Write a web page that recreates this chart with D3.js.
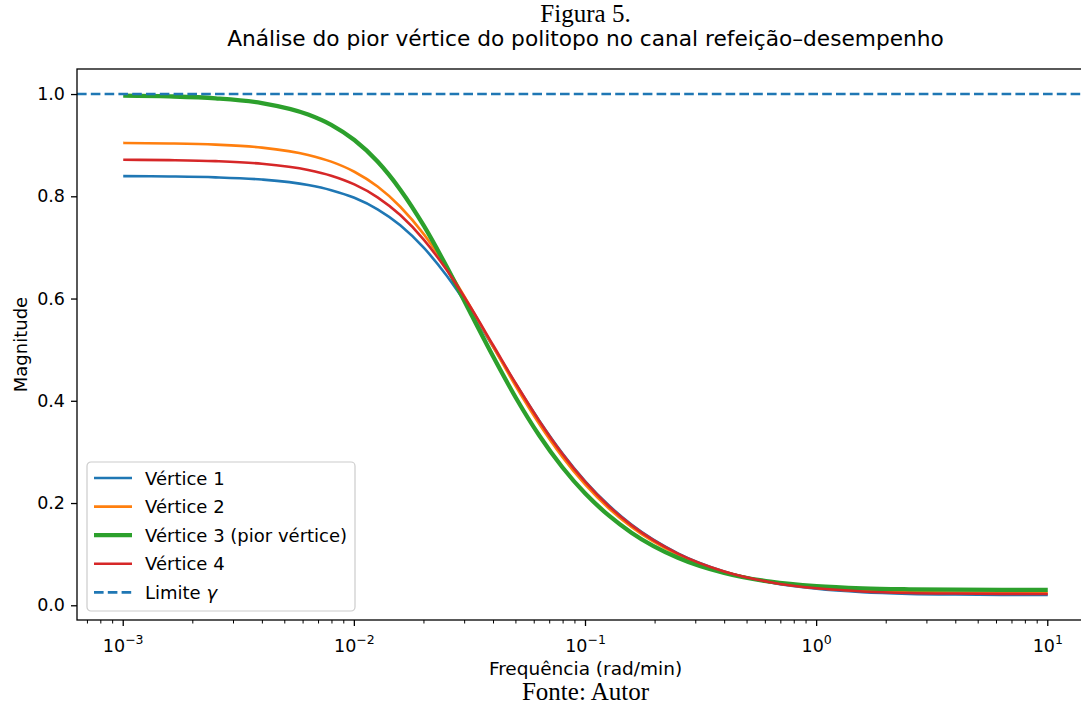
<!DOCTYPE html>
<html>
<head>
<meta charset="utf-8">
<script src="https://cdn.jsdelivr.net/npm/d3@7"></script>
<style>
  body { margin: 0; background: #fff; }
  svg { display: block; }
</style>
</head>
<body>
<div id="container"></div>
<script>
// frequencies (rad/min) where the curves were read
const freqs = [0.001, 0.00158, 0.00251, 0.00398, 0.00631, 0.00794, 0.01, 0.0126, 0.0158, 0.02,
  0.0251, 0.0316, 0.0398, 0.0501, 0.0631, 0.0794, 0.1, 0.126, 0.158, 0.251,
  0.398, 0.631, 1, 1.58, 2.51, 3.98, 6.31, 10];

const vertice1 = [0.8395, 0.8388, 0.8371, 0.8327, 0.8221, 0.812, 0.797, 0.7745, 0.7433, 0.699,
  0.6444, 0.5786, 0.506, 0.4319, 0.3612, 0.2975, 0.2421, 0.1956, 0.158, 0.1017,
  0.0662, 0.0446, 0.0322, 0.0256, 0.0224, 0.021, 0.0204, 0.0202];
const vertice2 = [0.9044, 0.9034, 0.901, 0.8952, 0.8809, 0.8678, 0.848, 0.819, 0.7796, 0.7255,
  0.6607, 0.5857, 0.506, 0.4274, 0.3546, 0.2903, 0.2354, 0.1898, 0.1532, 0.099,
  0.0654, 0.0453, 0.0341, 0.0285, 0.0259, 0.0248, 0.0243, 0.0241];
const vertice3 = [0.997, 0.9955, 0.9917, 0.9824, 0.960, 0.9398, 0.910, 0.868, 0.813, 0.742,
  0.662, 0.574, 0.487, 0.405, 0.332, 0.270, 0.218, 0.1757, 0.142, 0.0929,
  0.0632, 0.0461, 0.0373, 0.0331, 0.0313, 0.0305, 0.0302, 0.0301];
const vertice4 = [0.8715, 0.8707, 0.8687, 0.8636, 0.8515, 0.8403, 0.8232, 0.798, 0.7633, 0.7148,
  0.6556, 0.5853, 0.5091, 0.4328, 0.3606, 0.2962, 0.2407, 0.1942, 0.1568, 0.1011,
  0.0662, 0.0452, 0.0332, 0.0271, 0.0241, 0.0229, 0.0223, 0.0221];
const gamma = 1.0;

const seriesNames = ["Vértice 1", "Vértice 2", "Vértice 3 (pior vértice)", "Vértice 4"];
const seriesColors = ["#1f77b4", "#ff7f0e", "#2ca02c", "#d62728"];
const seriesWidths = [2.6, 2.6, 4.3, 2.6];
const yTicks = [0.0, 0.2, 0.4, 0.6, 0.8, 1.0];
const xTicks = [-3, -2, -1, 0, 1];

const width = 1081;
const height = 707;
const plotLeft = 77, plotRight = 1094, plotTop = 69, plotBottom = 620;
const sans = "DejaVu Sans";
const serif = "Liberation Serif";

const svg = d3.select("#container").append("svg")
  .attr("width", width)
  .attr("height", height);

const allSeries = [vertice1, vertice2, vertice3, vertice4];
const yMin = d3.min(allSeries, s => d3.min(s));
const yMax = Math.max(gamma, d3.max(allSeries, s => d3.max(s)));
const pad = 0.05 * (yMax - yMin);

const x = d3.scaleLog()
  .domain([Math.pow(10, -3.2), Math.pow(10, 1.2)])
  .range([plotLeft, plotRight]);
const y = d3.scaleLinear()
  .domain([yMin - pad, yMax + pad])
  .range([plotBottom, plotTop]);

// clip for the plot area
svg.append("clipPath").attr("id", "plotclip")
  .append("rect")
  .attr("x", plotLeft).attr("y", plotTop)
  .attr("width", plotRight - plotLeft).attr("height", plotBottom - plotTop);

const plot = svg.append("g").attr("clip-path", "url(#plotclip)");

const line = d3.line()
  .x(d => x(d[0]))
  .y(d => y(d[1]))
  .curve(d3.curveMonotoneX);

allSeries.forEach((s, i) => {
  plot.append("path")
    .datum(freqs.map((f, j) => [f, s[j]]))
    .attr("fill", "none")
    .attr("stroke", seriesColors[i])
    .attr("stroke-width", seriesWidths[i])
    .attr("stroke-linejoin", "round")
    .attr("d", line);
});

// limite gamma
plot.append("line")
  .attr("x1", plotLeft).attr("x2", plotRight)
  .attr("y1", y(gamma)).attr("y2", y(gamma))
  .attr("stroke", "#1f77b4")
  .attr("stroke-width", 2.6)
  .attr("stroke-dasharray", "9.6,4.2");

// spines
svg.append("rect")
  .attr("x", plotLeft).attr("y", plotTop)
  .attr("width", plotRight - plotLeft).attr("height", plotBottom - plotTop)
  .attr("fill", "none")
  .attr("stroke", "#000")
  .attr("stroke-width", 1.3);

// y axis
const yAxis = d3.axisLeft(y)
  .tickValues(yTicks)
  .tickFormat(d3.format(".1f"))
  .tickSize(6)
  .tickPadding(6);
const yG = svg.append("g")
  .attr("transform", `translate(${plotLeft},0)`)
  .call(yAxis);
yG.select(".domain").remove();
yG.selectAll(".tick line").attr("stroke-width", 1.3);
yG.selectAll(".tick text")
  .attr("font-family", sans)
  .attr("font-size", 17.5)
  .attr("fill", "#000");

// x axis: major ticks
const xG = svg.append("g").attr("transform", `translate(0,${plotBottom})`);
xG.selectAll(".major").data(xTicks).enter()
  .append("line")
  .attr("class", "major")
  .attr("x1", d => x(Math.pow(10, d))).attr("x2", d => x(Math.pow(10, d)))
  .attr("y1", 0).attr("y2", 6)
  .attr("stroke", "#000").attr("stroke-width", 1.3);

// minor ticks
const minor = [];
for (let e = -4; e <= 1; e++) {
  for (let m = 2; m <= 9; m++) {
    const v = m * Math.pow(10, e);
    if (v >= x.domain()[0] && v <= x.domain()[1]) minor.push(v);
  }
}
xG.selectAll(".minor").data(minor).enter()
  .append("line")
  .attr("class", "minor")
  .attr("x1", d => x(d)).attr("x2", d => x(d))
  .attr("y1", 0).attr("y2", 3.5)
  .attr("stroke", "#000").attr("stroke-width", 1);

const xLab = xG.selectAll(".xlab").data(xTicks).enter()
  .append("text")
  .attr("class", "xlab")
  .attr("x", d => x(Math.pow(10, d)))
  .attr("y", 32)
  .attr("text-anchor", "middle")
  .attr("font-family", sans)
  .attr("font-size", 17.5)
  .attr("fill", "#000");
xLab.append("tspan").text("10");
xLab.append("tspan")
  .attr("font-size", 12.5)
  .attr("dy", -8)
  .text(d => (d < 0 ? "\u2212" : "") + Math.abs(d));

// axis titles
svg.append("text")
  .attr("x", (plotLeft + plotRight) / 2)
  .attr("y", 675)
  .attr("text-anchor", "middle")
  .attr("font-family", sans)
  .attr("font-size", 18.5)
  .text("Frequência (rad/min)");

svg.append("text")
  .attr("transform", `translate(27,${(plotTop + plotBottom) / 2}) rotate(-90)`)
  .attr("text-anchor", "middle")
  .attr("font-family", sans)
  .attr("font-size", 18)
  .text("Magnitude");

// titles
svg.append("text")
  .attr("x", (plotLeft + plotRight) / 2)
  .attr("y", 22)
  .attr("text-anchor", "middle")
  .attr("font-family", serif)
  .attr("font-size", 25)
  .text("Figura 5.");

svg.append("text")
  .attr("x", (plotLeft + plotRight) / 2)
  .attr("y", 46)
  .attr("text-anchor", "middle")
  .attr("font-family", sans)
  .attr("font-size", 21.7)
  .text("Análise do pior vértice do politopo no canal refeição–desempenho");

svg.append("text")
  .attr("x", (plotLeft + plotRight) / 2)
  .attr("y", 700)
  .attr("text-anchor", "middle")
  .attr("font-family", serif)
  .attr("font-size", 25)
  .text("Fonte: Autor");

// legend
const legend = svg.append("g").attr("transform", "translate(87,462)");
legend.append("rect")
  .attr("width", 268).attr("height", 149)
  .attr("rx", 4)
  .attr("fill", "#fff").attr("fill-opacity", 0.8)
  .attr("stroke", "#cccccc").attr("stroke-width", 1.2);

const legendItems = seriesNames.map((n, i) => ({name: n, color: seriesColors[i], w: seriesWidths[i], dash: null}))
  .concat([{name: "Limite ", color: "#1f77b4", w: 2.6, dash: "9.6,4.2", gamma: true}]);

const rows = legend.selectAll(".row").data(legendItems).enter()
  .append("g")
  .attr("class", "row")
  .attr("transform", (d, i) => `translate(0,${16 + i * 28.6})`);
rows.append("line")
  .attr("x1", 7).attr("x2", 45)
  .attr("stroke", d => d.color)
  .attr("stroke-width", d => d.w)
  .attr("stroke-dasharray", d => d.dash);
const rowText = rows.append("text")
  .attr("x", 58)
  .attr("y", 6.5)
  .attr("font-family", sans)
  .attr("font-size", 18)
  .text(d => d.name);
rowText.filter(d => d.gamma).append("tspan")
  .attr("font-style", "italic")
  .text("γ");
</script>
</body>
</html>
